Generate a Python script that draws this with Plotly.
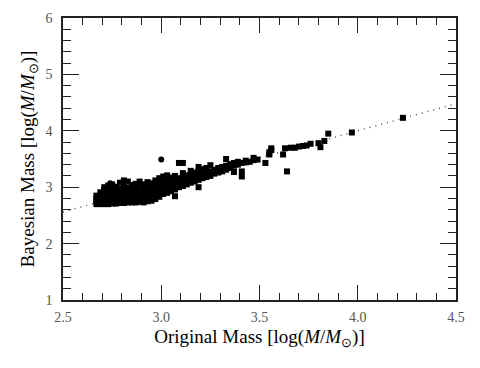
import plotly.graph_objects as go

# fit line end points
fit_x = [2.5, 4.5]
fit_y = [2.56, 4.48]

# dense cluster, x 2.67 - 3.0 (column by column)
cluster_x = (
    [2.67] * 4 + [2.69] * 5 + [2.71] * 7 + [2.73] * 7 + [2.75] * 7
    + [2.77] * 7 + [2.79] * 7 + [2.81] * 8 + [2.83] * 7 + [2.85] * 7
    + [2.87] * 7 + [2.89] * 7 + [2.91] * 7 + [2.93] * 7 + [2.95] * 7
    + [2.97] * 7 + [2.99] * 7
)
cluster_y = [
    2.70, 2.75, 2.80, 2.85,
    2.70, 2.75, 2.80, 2.85, 2.91,
    2.70, 2.75, 2.80, 2.85, 2.90, 2.95, 3.00,
    2.70, 2.75, 2.80, 2.85, 2.90, 2.96, 3.03,
    2.71, 2.76, 2.81, 2.86, 2.91, 2.97, 3.05,
    2.71, 2.76, 2.81, 2.86, 2.91, 2.96, 3.01,
    2.72, 2.77, 2.82, 2.87, 2.92, 2.97, 3.08,
    2.72, 2.77, 2.82, 2.87, 2.92, 2.97, 3.03, 3.12,
    2.73, 2.78, 2.83, 2.88, 2.93, 2.99, 3.10,
    2.73, 2.78, 2.83, 2.88, 2.93, 2.98, 3.04,
    2.73, 2.78, 2.83, 2.88, 2.93, 2.98, 3.06,
    2.74, 2.79, 2.84, 2.89, 2.94, 3.00, 3.10,
    2.73, 2.78, 2.83, 2.88, 2.93, 2.98, 3.05,
    2.75, 2.80, 2.85, 2.90, 2.95, 3.01, 3.09,
    2.76, 2.81, 2.86, 2.91, 2.96, 3.02, 3.07,
    2.79, 2.84, 2.89, 2.94, 2.99, 3.05, 3.12,
    2.83, 2.88, 2.93, 2.98, 3.03, 3.09, 3.16,
]

# band above 3.0
band_x = [
    3.01, 3.01, 3.01, 3.01, 3.01,
    3.03, 3.03, 3.03, 3.03, 3.03,
    3.05, 3.05, 3.05, 3.05,
    3.07, 3.07, 3.07, 3.07, 3.07,
    3.09, 3.09, 3.09, 3.09,
    3.11, 3.11, 3.11, 3.11, 3.11,
    3.13, 3.13, 3.13,
    3.15, 3.15, 3.15, 3.15,
    3.17, 3.17, 3.17,
    3.19, 3.19, 3.19, 3.19, 3.19,
    3.21, 3.21, 3.21,
    3.23, 3.23, 3.23,
    3.25, 3.25, 3.25,
    3.27, 3.27,
    3.29, 3.29,
    3.31, 3.31,
    3.33, 3.33, 3.33,
    3.35, 3.35,
    3.37, 3.37, 3.37,
    3.39, 3.39,
    3.41, 3.41, 3.41,
    3.43, 3.43,
    3.45,
    3.47, 3.47,
    3.49,
    3.53,
    3.55, 3.55,
    3.56, 3.56,
    3.62, 3.63, 3.64,
    3.66, 3.68, 3.70, 3.72, 3.74,
    3.76, 3.80, 3.81, 3.83, 3.85,
    3.97, 4.23,
]
band_y = [
    2.88, 2.96, 3.04, 3.11, 3.19,
    2.90, 2.98, 3.06, 3.14, 3.21,
    2.93, 3.01, 3.09, 3.17,
    2.96, 3.04, 3.12, 3.20, 2.84,
    3.00, 3.08, 3.16, 3.43,
    3.02, 3.10, 3.18, 3.25, 3.43,
    3.05, 3.13, 3.21,
    3.08, 3.16, 3.23, 3.29,
    3.10, 3.18, 3.26,
    3.00, 3.13, 3.21, 3.29, 3.36,
    3.16, 3.24, 3.32,
    3.18, 3.26, 3.34,
    3.20, 3.28, 3.39,
    3.24, 3.31,
    3.26, 3.34,
    3.28, 3.36,
    3.31, 3.38, 3.50,
    3.34, 3.41,
    3.27, 3.38, 3.43,
    3.40, 3.45,
    3.19, 3.28, 3.43,
    3.44, 3.47,
    3.45,
    3.48, 3.52,
    3.49,
    3.43,
    3.62, 3.58,
    3.69, 3.66,
    3.58, 3.69, 3.28,
    3.70, 3.70, 3.72, 3.73, 3.74,
    3.77, 3.78, 3.71, 3.82, 3.95,
    3.97, 4.23,
]

# a few round points
dot_x = [3.00, 2.74]
dot_y = [3.49, 3.07]

serif = "Liberation Serif"
fig = go.Figure()

fig.add_trace(go.Scatter(
    x=fit_x, y=fit_y, mode='lines',
    line=dict(color='#555', width=1.5, dash='1px,5px'),
    showlegend=False,
))
fig.add_trace(go.Scatter(
    x=cluster_x + band_x, y=cluster_y + band_y, mode='markers',
    marker=dict(symbol='square', size=6, color='black'),
    showlegend=False,
))
fig.add_trace(go.Scatter(
    x=dot_x, y=dot_y, mode='markers',
    marker=dict(symbol='circle', size=6, color='black'),
    showlegend=False,
))

axis_common = dict(
    showline=True,
    linewidth=1.5,
    linecolor='#222',
    mirror='allticks',
    ticks='inside',
    tickwidth=1,
    tickcolor='#222',
    showgrid=False,
    zeroline=False,
    automargin=False,
    tickfont=dict(family=serif, size=14, color='#555'),
)

# page body has an 8px margin, so the figure is a bit smaller than the window
fig.update_layout(
    width=472, height=360,
    margin=dict(l=55, r=24, t=10, b=68),
    plot_bgcolor='white',
    paper_bgcolor='white',
    xaxis=dict(
        axis_common,
        range=[2.5, 4.5],
        tickmode='array',
        tickvals=[2.5, 3.0, 3.5, 4.0, 4.5],
        ticktext=['2.5', '3.0', '3.5', '4.0', '4.5'],
        ticklen=15,
        ticklabelstandoff=3,
        minor=dict(dtick=0.1, ticks='inside', ticklen=7, tickcolor='#222'),
        title=dict(text="Original Mass [log(<i>M</i>/<i>M</i><sub>⊙</sub>)]",
                   font=dict(family=serif, size=19, color='black'), standoff=6),
    ),
    yaxis=dict(
        axis_common,
        range=[1, 6],
        dtick=1,
        ticklen=16,
        ticklabelstandoff=6,
        minor=dict(dtick=0.2, ticks='inside', ticklen=8, tickcolor='#222'),
        title=dict(text="Bayesian Mass [log(<i>M</i>/<i>M</i><sub>⊙</sub>)]",
                   font=dict(family=serif, size=19, color='black'), standoff=6),
    ),
)

fig.write_html("out.html")
